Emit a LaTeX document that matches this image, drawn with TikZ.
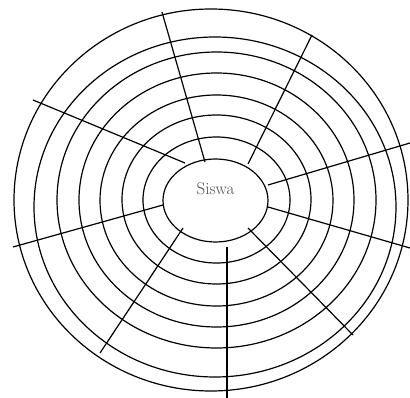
\documentclass[tikz,border=0pt]{standalone}
\usepackage{tikz}
\usetikzlibrary{arrows.meta}

\begin{document}
\begin{tikzpicture}[x=1pt,y=-1pt,line width=1.2pt]
\useasboundingbox (0,0) rectangle (410,398);
% rings, innermost first
\draw(215.5,200.5) ellipse (52.5pt and 41.5pt);
\draw(216.5,200) ellipse (73.5pt and 63pt);
\draw(216.5,199.5) ellipse (94.5pt and 84.5pt);
\draw(216.5,200.5) ellipse (116.5pt and 105.5pt);
\draw(216.5,200) ellipse (137.5pt and 127pt);
\draw(216.5,200) ellipse (159.5pt and 148pt);
\draw(215,207) ellipse (181pt and 170pt);
\draw(211,200) ellipse (197pt and 191pt);
% spokes
\draw(205,162)--(162,12);
\draw(248,164)--(312,35);
\draw(268,185)--(410,143);
\draw(268,207)--(410,248);
\draw(248,228)--(353,335);
\draw(227,247)--(227,398);
\draw(183,228)--(100,353);
\draw(163,205)--(13,247);
\draw(185,163)--(33,100);
\node[text=black!70,font=\fontsize{17}{17}\selectfont](siswa) at (215.5,189){Siswa};
\end{tikzpicture}
\end{document}
